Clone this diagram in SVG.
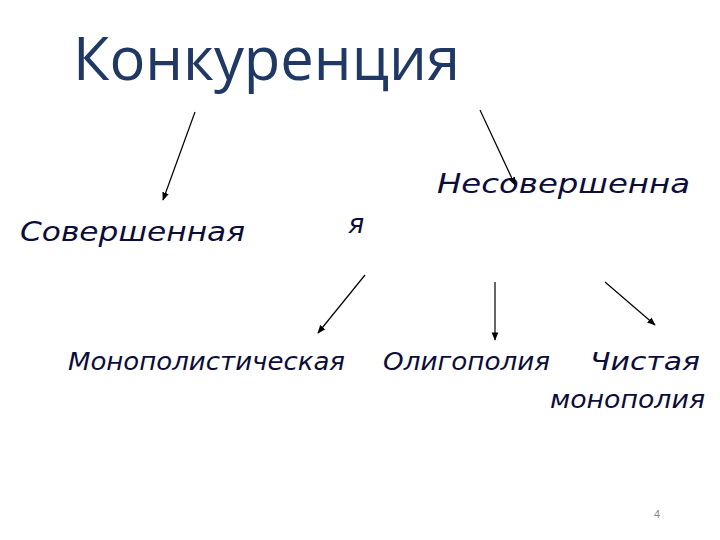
<svg xmlns="http://www.w3.org/2000/svg" width="720" height="540" viewBox="0 0 720 540">
<style>
.t{font-family:"DejaVu Sans",sans-serif;font-style:italic;fill:#0d0d3a;font-size:27px}
.s{font-size:24px}
.c line{stroke:#000;stroke-width:1.2;marker-end:url(#a)}
</style>
<defs><marker id="a" viewBox="0 0 10 10" refX="9" refY="5" markerWidth="7" markerHeight="7" orient="auto"><path d="M0,1 L10,5 L0,9 z" fill="#000"/></marker></defs>
<rect width="720" height="540" fill="#fff"/>
<g id="title"><text x="73" y="80" font-family="Open Sans,sans-serif" font-size="60" fill="#1f3864" textLength="387" lengthAdjust="spacingAndGlyphs">Конкуренция</text></g>
<g id="perfect"><text class="t" x="20" y="241" textLength="225" lengthAdjust="spacingAndGlyphs">Совершенная</text></g>
<g id="imperfect"><text class="t" x="437" y="193" textLength="253" lengthAdjust="spacingAndGlyphs">Несовершенна</text><text class="t" x="348" y="233">я</text></g>
<g id="monopolistic"><text class="t s" x="68" y="370" textLength="277" lengthAdjust="spacingAndGlyphs">Монополистическая</text></g>
<g id="oligopoly"><text class="t s" x="383" y="370" textLength="167" lengthAdjust="spacingAndGlyphs">Олигополия</text></g>
<g id="pure"><text class="t s" x="590" y="370" textLength="110" lengthAdjust="spacingAndGlyphs">Чистая</text><text class="t s" x="550" y="408" textLength="155" lengthAdjust="spacingAndGlyphs">монополия</text></g>
<g class="c">
<line x1="195" y1="112" x2="163" y2="200"/>
<line x1="480" y1="110" x2="515" y2="185"/>
<line x1="365" y1="275" x2="318" y2="333"/>
<line x1="495" y1="282" x2="495" y2="340"/>
<line x1="605" y1="282" x2="655" y2="325"/>
</g>
<text x="654" y="518" font-family="Liberation Sans,sans-serif" font-size="11" fill="#888">4</text>
</svg>
